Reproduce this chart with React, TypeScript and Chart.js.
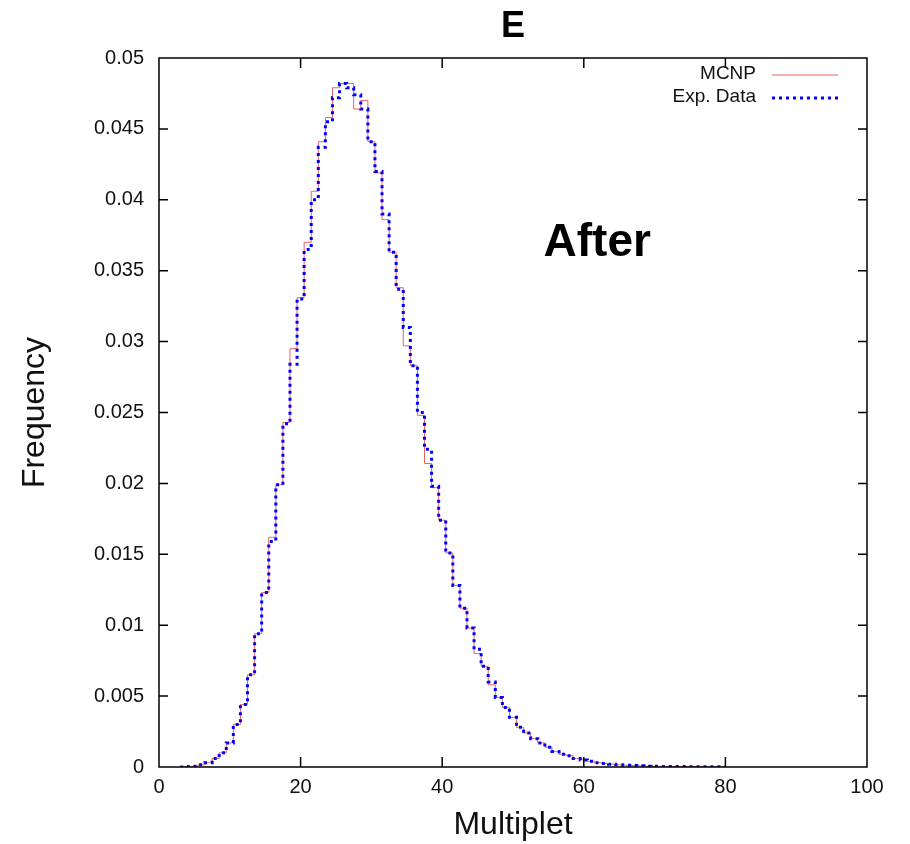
import React, { useEffect, useRef } from "react";
import { Chart, registerables } from "chart.js";

Chart.register(...registerables);

const chartTitle = "E";
const annotationText = "After";
const xAxisTitle = "Multiplet";
const yAxisTitle = "Frequency";

const multiplet = [
  3, 4, 5, 6, 7, 8, 9, 10, 11, 12, 13, 14, 15, 16, 17, 18, 19, 20, 21, 22, 23, 24, 25, 26, 27, 28, 29, 30,
  31, 32, 33, 34, 35, 36, 37, 38, 39, 40, 41, 42, 43, 44, 45, 46, 47, 48, 49, 50, 51, 52, 53, 54, 55, 56,
  57, 58, 59, 60, 61, 62, 63, 64, 65, 66, 67, 68, 69, 70, 71, 72, 73, 74, 75, 76, 77, 78, 79, 80,
];

const mcnp = [
  0, 0.00003, 0.00005, 0.00015, 0.0003, 0.0006, 0.001, 0.0017, 0.003, 0.0044, 0.0065, 0.0094, 0.0123,
  0.0162, 0.0199, 0.0243, 0.0295, 0.0331, 0.037, 0.0406, 0.0441, 0.0458, 0.0479, 0.0482, 0.0482, 0.0464,
  0.047, 0.0441, 0.0419, 0.0386, 0.0363, 0.0338, 0.0297, 0.0283, 0.0248, 0.0214, 0.0197, 0.0174, 0.0151,
  0.0128, 0.0112, 0.0098, 0.008, 0.0071, 0.0058, 0.0049, 0.0042, 0.0035, 0.0028, 0.0024, 0.002, 0.0017,
  0.0014, 0.0011, 0.0009, 0.0008, 0.0006, 0.0005, 0.0004, 0.0003, 0.00025, 0.0002, 0.00015, 0.00012,
  0.0001, 0.00008, 0.00006, 0.00005, 0.00004, 0.00004, 0.00003, 0.00003, 0.00002, 0.00001, 0.00001,
  0.00001, 0.00001, 0,
];

const expData = [
  0, 0.00003, 0.00005, 0.00015, 0.0003, 0.0006, 0.001, 0.0017, 0.003, 0.0044, 0.0065, 0.0094, 0.0123,
  0.0159, 0.0199, 0.0242, 0.0284, 0.033, 0.0365, 0.04, 0.0437, 0.0455, 0.0472, 0.0482, 0.0479, 0.0474,
  0.0464, 0.0441, 0.042, 0.039, 0.0363, 0.0337, 0.031, 0.0283, 0.025, 0.0224, 0.0198, 0.0174, 0.0151,
  0.0128, 0.0112, 0.0098, 0.0083, 0.0071, 0.006, 0.0049, 0.0042, 0.0035, 0.0028, 0.0024, 0.002, 0.0017,
  0.0014, 0.0011, 0.0009, 0.0008, 0.0006, 0.0005, 0.0004, 0.0003, 0.00025, 0.0002, 0.00015, 0.00012,
  0.0001, 0.00008, 0.00006, 0.00005, 0.00004, 0.00004, 0.00003, 0.00003, 0.00002, 0.00002, 0.00001,
  0.00001, 0.00001, 0.00001,
];

const xTickValues = [0, 20, 40, 60, 80, 100];
const yTickValues = [0, 0.005, 0.01, 0.015, 0.02, 0.025, 0.03, 0.035, 0.04, 0.045, 0.05];

const FONT = "'Liberation Sans', Arial, Helvetica, sans-serif";
const RED = "rgb(230, 100, 100)";
const BLUE = "rgb(0, 0, 255)";

const decorPlugin = {
  id: "decor",
  afterDraw(chart: any) {
    const { ctx, chartArea, scales } = chart;
    const { left, right, top, bottom } = chartArea;
    const x = scales.x;
    const y = scales.y;
    ctx.save();
    // frame
    ctx.strokeStyle = "#000";
    ctx.lineWidth = 1.5;
    ctx.strokeRect(left, top, right - left, bottom - top);
    // inward ticks
    ctx.beginPath();
    x.ticks.forEach((t: any) => {
      const px = x.getPixelForValue(t.value);
      if (px <= left + 1 || px >= right - 1) return;
      ctx.moveTo(px, bottom);
      ctx.lineTo(px, bottom - 10);
      ctx.moveTo(px, top);
      ctx.lineTo(px, top + 10);
    });
    y.ticks.forEach((t: any) => {
      const py = y.getPixelForValue(t.value);
      if (py <= top + 1 || py >= bottom - 1) return;
      ctx.moveTo(left, py);
      ctx.lineTo(left + 9, py);
      ctx.moveTo(right, py);
      ctx.lineTo(right - 9, py);
    });
    ctx.stroke();

    // legend
    const ds = chart.data.datasets;
    ctx.font = `19px ${FONT}`;
    ctx.textAlign = "right";
    ctx.textBaseline = "middle";
    ds.forEach((d: any, i: number) => {
      const rowY = top + 16 + i * 23;
      ctx.fillStyle = "#111";
      ctx.fillText(d.label, right - 111, rowY);
      ctx.save();
      ctx.strokeStyle = d.borderColor;
      ctx.lineWidth = d.borderWidth;
      ctx.setLineDash(d.borderDash || []);
      ctx.beginPath();
      ctx.moveTo(right - 95, rowY + 1);
      ctx.lineTo(right - 29, rowY + 1);
      ctx.stroke();
      ctx.restore();
    });

    // title
    ctx.fillStyle = "#000";
    ctx.textAlign = "center";
    ctx.textBaseline = "middle";
    ctx.font = `bold 36px ${FONT}`;
    ctx.fillText(chartTitle, (left + right) / 2, 27);

    // annotation
    ctx.font = `bold 46px ${FONT}`;
    ctx.fillText(annotationText, x.getPixelForValue(61.9), y.getPixelForValue(0.0369));
    ctx.restore();
  },
};

export default function App() {
  const ref = useRef<HTMLCanvasElement>(null);

  useEffect(() => {
    if (!ref.current) return;
    const chart = new Chart(ref.current, {
      type: "line",
      data: {
        datasets: [
          {
            label: "MCNP",
            data: multiplet.map((m, i) => ({ x: m, y: mcnp[i] })),
            borderColor: RED,
            borderWidth: 1,
            stepped: "middle",
            pointRadius: 0,
            fill: false,
            order: 2,
          },
          {
            label: "Exp. Data",
            data: multiplet.map((m, i) => ({ x: m, y: expData[i] })),
            borderColor: BLUE,
            borderWidth: 3,
            borderDash: [3, 4],
            stepped: "middle",
            pointRadius: 0,
            fill: false,
            order: 1,
          },
        ],
      },
      options: {
        responsive: false,
        animation: false,
        layout: { padding: { top: 58, right: 43, bottom: 0, left: 0 } },
        plugins: {
          legend: { display: false },
          tooltip: { enabled: false },
          title: { display: false },
        },
        scales: {
          x: {
            type: "linear",
            min: 0,
            max: 100,
            afterBuildTicks: (s: any) => {
              s.ticks = xTickValues.map((v) => ({ value: v }));
            },
            afterFit: (s: any) => {
              s.height = 77;
            },
            grid: { display: false, drawTicks: false },
            border: { display: false },
            ticks: {
              padding: 8,
              color: "#111",
              font: { family: FONT, size: 20 },
              maxRotation: 0,
              callback: (v: any) => String(v),
            },
            title: {
              display: true,
              text: xAxisTitle,
              color: "#111",
              font: { family: FONT, size: 32 },
              padding: { top: 0, bottom: 0 },
            },
          },
          y: {
            type: "linear",
            min: 0,
            max: 0.05,
            afterBuildTicks: (s: any) => {
              s.ticks = yTickValues.map((v) => ({ value: v }));
            },
            afterFit: (s: any) => {
              s.width = 159;
            },
            grid: { display: false, drawTicks: false },
            border: { display: false },
            ticks: {
              padding: 15,
              color: "#111",
              font: { family: FONT, size: 20 },
              callback: (v: any) => String(parseFloat(Number(v).toFixed(3))),
            },
            title: {
              display: true,
              text: yAxisTitle,
              color: "#111",
              font: { family: FONT, size: 32 },
              padding: { top: 16, bottom: 0 },
            },
          },
        },
      },
      plugins: [decorPlugin],
    } as any);
    return () => chart.destroy();
  }, []);

  return (
    <canvas
      ref={ref}
      width={910}
      height={844}
      style={{ position: "absolute", left: 0, top: 0, width: 910, height: 844 }}
    />
  );
}
